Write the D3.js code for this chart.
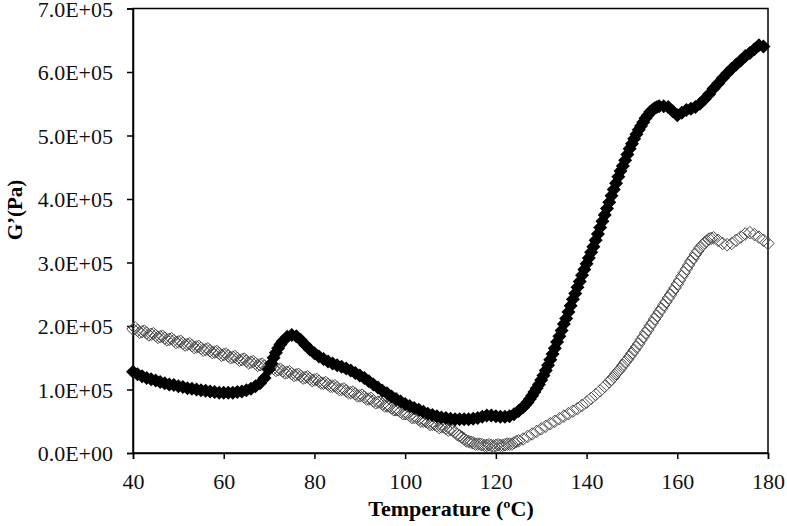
<!DOCTYPE html>
<html><head><meta charset="utf-8">
<script src="https://cdn.jsdelivr.net/npm/d3@7"></script>
<style>body{margin:0;background:#fff}svg{display:block}</style>
</head><body><svg id="c" width="787" height="526"></svg>
<script>
const xTicks = [40,60,80,100,120,140,160,180];
const yTicks = [0,100000,200000,300000,400000,500000,600000,700000];
const xTitle = "Temperature (ºC)";
const yTitle = "G’(Pa)";

// filled diamonds (G' in 1e5 Pa)
const tempFilled = [40,41,42,43,44,45,46,47,48,49,50,51,52,53,54,55,56,57,58,59,60,61,62,63,64,65,66,67,68,69,70,71,72,73,74,75,76,77,78,79,80,81,82,83,84,85,86,87,88,89,90,91,92,93,94,95,96,97,98,99,100,101,102,103,104,105,106,107,108,109,110,111,112,113,114,115,116,117,118,119,120,121,122,123,124,125,126,127,128,129,130,131,132,133,134,135,136,137,138,139,140,141,142,143,144,145,146,147,148,149,150,151,152,153,154,155,156,157,158,159,160,161,162,163,164,165,166,167,168,169,170,171,172,173,174,175,176,177,178,179];
const gFilled = [1.28,1.24,1.21,1.18,1.16,1.14,1.12,1.10,1.08,1.07,1.05,1.04,1.02,1.01,1.00,0.99,0.98,0.97,0.96,0.95,0.95,0.95,0.95,0.96,0.97,0.99,1.01,1.05,1.10,1.18,1.32,1.50,1.65,1.76,1.83,1.86,1.84,1.78,1.70,1.63,1.57,1.52,1.48,1.44,1.41,1.38,1.36,1.33,1.30,1.26,1.22,1.18,1.13,1.08,1.03,0.98,0.94,0.89,0.85,0.81,0.77,0.74,0.71,0.68,0.65,0.62,0.60,0.58,0.56,0.55,0.54,0.53,0.53,0.53,0.53,0.54,0.55,0.57,0.59,0.59,0.58,0.57,0.57,0.58,0.61,0.66,0.72,0.80,0.90,1.02,1.15,1.30,1.47,1.65,1.84,2.03,2.22,2.42,2.61,2.80,2.98,3.16,3.35,3.55,3.75,3.95,4.15,4.35,4.52,4.70,4.87,5.02,5.15,5.27,5.37,5.43,5.46,5.46,5.45,5.38,5.32,5.36,5.40,5.42,5.45,5.50,5.57,5.65,5.74,5.82,5.90,5.98,6.05,6.12,6.18,6.25,6.30,6.36,6.42,6.40];
const tempFilledB = [70.5,71.5,72.5,126.5,127.5,128.5,129.5,130.5,131.5,132.5,133.5,134.5,135.5,136.5,137.5,138.5,139.5,140.5,141.5,142.5,143.5,144.5,145.5,146.5,147.5,148.5,149.5,150.5,151.5,152.5,153.5,154.5,155.5];
const gFilledB = [1.41,1.58,1.71,0.76,0.85,0.96,1.08,1.22,1.38,1.56,1.75,1.93,2.12,2.32,2.51,2.70,2.89,3.07,3.25,3.45,3.65,3.85,4.05,4.25,4.44,4.61,4.79,4.95,5.09,5.21,5.32,5.40,5.45];

// open diamonds (G' in 1e5 Pa)
const tempOpen = [40,41,42,43,44,45,46,47,48,49,50,51,52,53,54,55,56,57,58,59,60,61,62,63,64,65,66,67,68,69,70,71,72,73,74,75,76,77,78,79,80,81,82,83,84,85,86,87,88,89,90,91,92,93,94,95,96,97,98,99,100,101,102,103,104,105,106,107,108,109,110,111,112,113,114,115,116,117,118,119,120,121,122,123,124,125,126,127,128,129,130,131,132,133,134,135,136,137,138,139,140,141,142,143,144,145,146,147,148,149,150,151,152,153,154,155,156,157,158,159,160,161,162,163,164,165,166,167,168,169,170,171,172,173,174,175,176,177,178,179,180];
const gOpen = [1.95,1.93,1.91,1.89,1.87,1.85,1.83,1.81,1.79,1.77,1.75,1.73,1.71,1.69,1.67,1.65,1.63,1.61,1.59,1.57,1.55,1.53,1.51,1.49,1.47,1.45,1.43,1.41,1.39,1.37,1.35,1.33,1.31,1.29,1.27,1.25,1.23,1.21,1.19,1.17,1.15,1.13,1.10,1.08,1.05,1.03,1.00,0.98,0.95,0.93,0.90,0.88,0.85,0.82,0.80,0.77,0.74,0.71,0.68,0.65,0.62,0.59,0.56,0.53,0.50,0.48,0.45,0.43,0.41,0.39,0.37,0.33,0.27,0.22,0.18,0.16,0.14,0.13,0.12,0.12,0.12,0.12,0.13,0.14,0.16,0.19,0.22,0.26,0.30,0.34,0.38,0.42,0.46,0.50,0.54,0.58,0.62,0.66,0.70,0.75,0.80,0.86,0.92,0.98,1.05,1.12,1.20,1.29,1.38,1.47,1.57,1.67,1.78,1.89,2.00,2.11,2.22,2.33,2.44,2.55,2.66,2.78,2.90,3.02,3.13,3.23,3.31,3.37,3.39,3.35,3.30,3.28,3.30,3.35,3.40,3.45,3.47,3.44,3.40,3.35,3.30];
const tempOpenB = [40.5,41.5,42.5,43.5,44.5,45.5,46.5,47.5,48.5,49.5,50.5,51.5,52.5,53.5,54.5,55.5,56.5,57.5,58.5,59.5,60.5,61.5,62.5,63.5,64.5,65.5,66.5,67.5,68.5,69.5,70.5,71.5,72.5,73.5,74.5,75.5,76.5,77.5,78.5,79.5,80.5,81.5,82.5,83.5,84.5,85.5,86.5,87.5,88.5,89.5,90.5,91.5,92.5,93.5,94.5,95.5,96.5,97.5,98.5,99.5,100.5,101.5,102.5,103.5,104.5,105.5,106.5,107.5,108.5,109.5,110.5,111.5,112.5,113.5,114.5,115.5,116.5,117.5,118.5,119.5,120.5,121.5,122.5,123.5,124.5,145.5,146.5,147.5,148.5,149.5,150.5,151.5,152.5,153.5,154.5,155.5,156.5,157.5,158.5,159.5,160.5,161.5,162.5,163.5,164.5,165.5,166.5,167.5];
const gOpenB = [1.97,1.90,1.92,1.86,1.88,1.82,1.84,1.78,1.80,1.74,1.76,1.70,1.72,1.66,1.68,1.62,1.64,1.58,1.60,1.54,1.56,1.50,1.52,1.46,1.48,1.42,1.44,1.38,1.40,1.34,1.36,1.30,1.32,1.26,1.28,1.22,1.24,1.18,1.20,1.14,1.16,1.10,1.11,1.05,1.06,1.00,1.01,0.95,0.96,0.90,0.91,0.85,0.86,0.79,0.80,0.74,0.74,0.68,0.68,0.62,0.62,0.56,0.56,0.50,0.50,0.45,0.45,0.40,0.41,0.36,0.36,0.29,0.25,0.19,0.17,0.14,0.14,0.12,0.13,0.11,0.13,0.12,0.14,0.14,0.18,1.16,1.25,1.33,1.43,1.52,1.62,1.72,1.83,1.94,2.05,2.16,2.27,2.38,2.49,2.60,2.72,2.84,2.96,3.07,3.18,3.27,3.34,3.38];
const unit = 100000;

const svg = d3.select("#c");
const m = {l:133, r:768, t:8.5, b:453};
const x = d3.scaleLinear().domain([40,180]).range([m.l, m.r]);
const y = d3.scaleLinear().domain([0,700000]).range([m.b, m.t]);
const font = "'Liberation Serif','Times New Roman',serif";

svg.append("rect").attr("x", m.l).attr("y", m.t).attr("width", m.r-m.l).attr("height", m.b-m.t)
  .attr("fill","none").attr("stroke","#000").attr("stroke-width",1.5);

const fmt = v => (v/unit).toFixed(1) + "E+" + (v===0 ? "00" : "05");
const gx = svg.append("g").attr("transform",`translate(0,${m.b})`)
  .call(d3.axisBottom(x).tickValues(xTicks).tickSize(6).tickPadding(14).tickFormat(d3.format("d")));
const gy = svg.append("g").attr("transform",`translate(${m.l},0)`)
  .call(d3.axisLeft(y).tickValues(yTicks).tickSize(6).tickPadding(14).tickFormat(fmt));
[gx,gy].forEach(g=>{
  g.select(".domain").attr("stroke","#000").attr("stroke-width",1.5);
  g.selectAll(".tick line").attr("stroke","#000").attr("stroke-width",1.5);
  g.selectAll(".tick text").attr("font-family",font).attr("font-size",22).attr("fill","#111");
});
gy.selectAll(".tick text").attr("dy","0.36em");

const diamond = d3.symbol().type(d3.symbolDiamond2);
const openData = tempOpen.map((t,i)=>[t,gOpen[i]*unit])
  .concat(tempOpenB.map((t,i)=>[t,gOpenB[i]*unit]));
const filledData = tempFilled.map((t,i)=>[t,gFilled[i]*unit])
  .concat(tempFilledB.map((t,i)=>[t,gFilledB[i]*unit]));

svg.append("g").selectAll("path").data(openData).join("path")
  .attr("d", diamond.size(100)())
  .attr("transform", d=>`translate(${x(d[0])},${y(d[1])})`)
  .attr("fill","none").attr("stroke","#4a4a4a").attr("stroke-width",1);

svg.append("g").selectAll("path").data(filledData).join("path")
  .attr("d", diamond.size(125)())
  .attr("transform", d=>`translate(${x(d[0])},${y(d[1])})`)
  .attr("fill","#000");

svg.append("text").attr("x",451).attr("y",516).attr("text-anchor","middle")
  .attr("font-family",font).attr("font-size",22).attr("font-weight","bold").text(xTitle);
svg.append("text").attr("transform","translate(22,210) rotate(-90)").attr("text-anchor","middle")
  .attr("font-family",font).attr("font-size",21).attr("font-weight","bold").text(yTitle);
</script></body></html>
